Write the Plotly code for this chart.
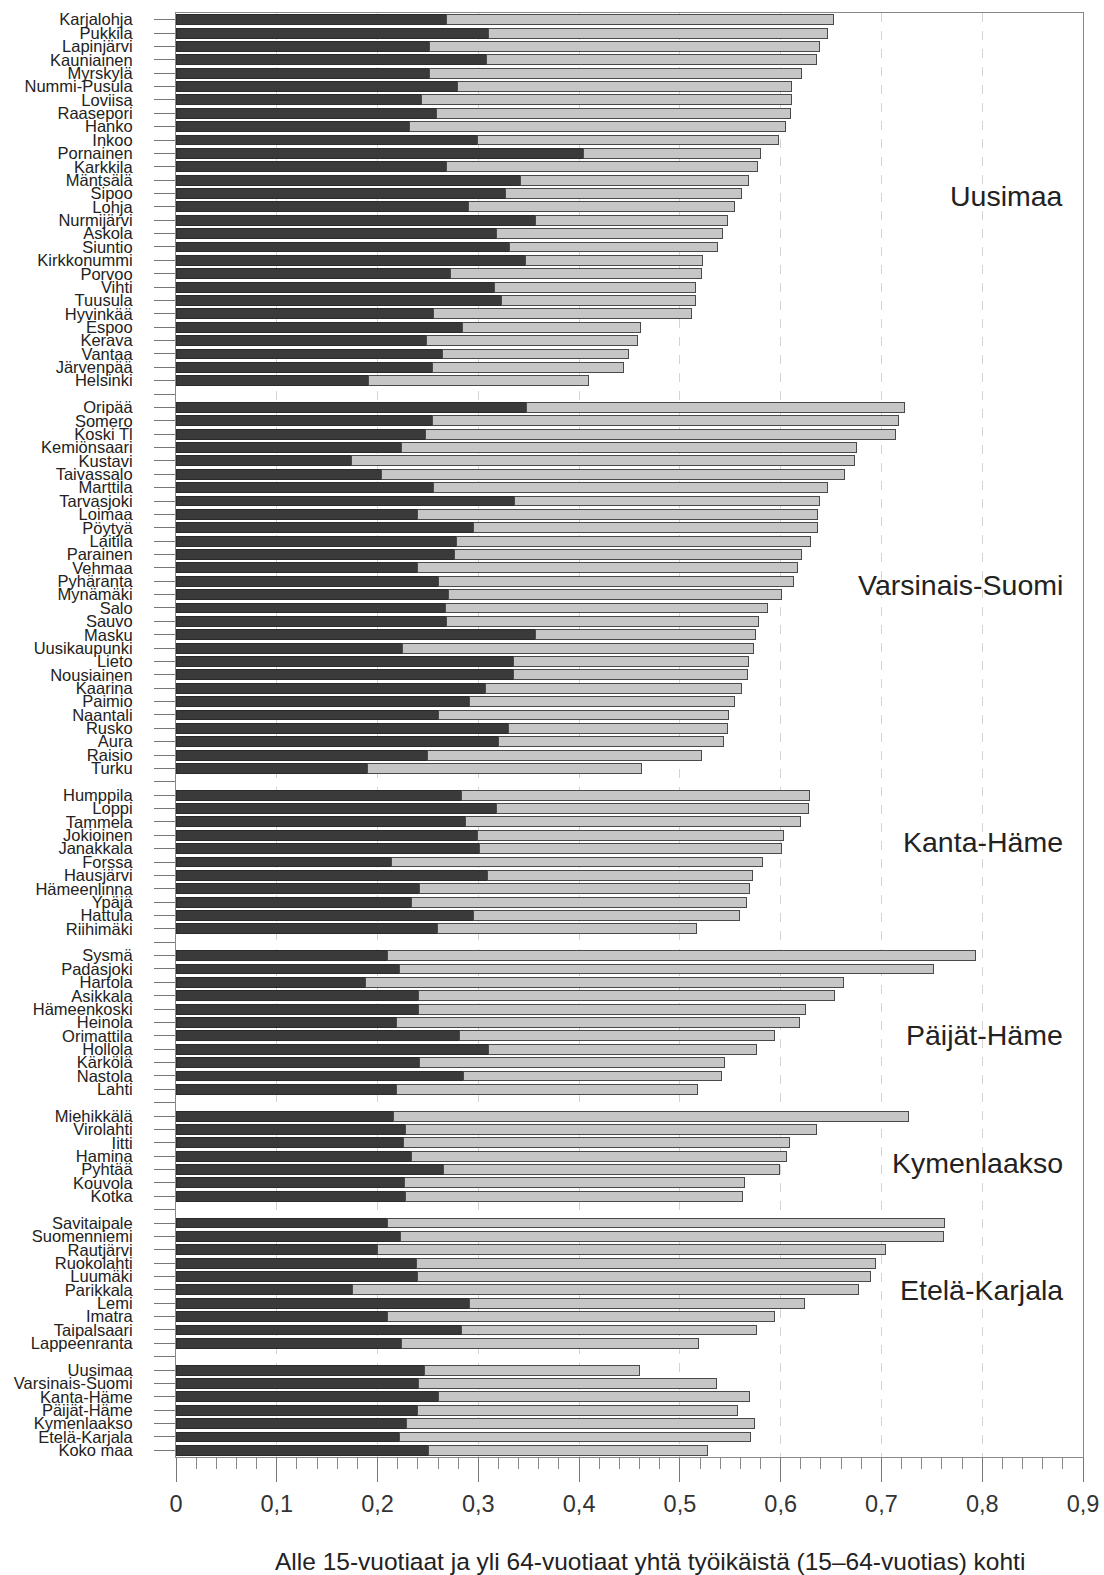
import plotly.graph_objects as go

# ---- data ----
uusimaa_names = ["Karjalohja", "Pukkila", "Lapinjärvi", "Kauniainen", "Myrskylä", "Nummi-Pusula",
                 "Loviisa", "Raasepori", "Hanko", "Inkoo", "Pornainen", "Karkkila", "Mäntsälä",
                 "Sipoo", "Lohja", "Nurmijärvi", "Askola", "Siuntio", "Kirkkonummi", "Porvoo",
                 "Vihti", "Tuusula", "Hyvinkää", "Espoo", "Kerava", "Vantaa", "Järvenpää", "Helsinki"]
uusimaa_u15 = [0.268, 0.310, 0.252, 0.308, 0.252, 0.279, 0.244, 0.258, 0.232, 0.299, 0.404, 0.268,
               0.342, 0.327, 0.290, 0.357, 0.318, 0.331, 0.347, 0.272, 0.316, 0.323, 0.256, 0.284,
               0.249, 0.264, 0.255, 0.191]
uusimaa_o64 = [0.384, 0.336, 0.387, 0.328, 0.369, 0.332, 0.367, 0.352, 0.373, 0.299, 0.176, 0.309,
               0.226, 0.234, 0.264, 0.190, 0.224, 0.206, 0.175, 0.249, 0.199, 0.192, 0.256, 0.177,
               0.209, 0.185, 0.189, 0.218]

vs_names = ["Oripää", "Somero", "Koski Tl", "Kemiönsaari", "Kustavi", "Taivassalo", "Marttila",
            "Tarvasjoki", "Loimaa", "Pöytyä", "Laitila", "Parainen", "Vehmaa", "Pyhäranta",
            "Mynämäki", "Salo", "Sauvo", "Masku", "Uusikaupunki", "Lieto", "Nousiainen", "Kaarina",
            "Paimio", "Naantali", "Rusko", "Aura", "Raisio", "Turku"]
vs_u15 = [0.348, 0.255, 0.248, 0.224, 0.174, 0.204, 0.256, 0.336, 0.240, 0.295, 0.278, 0.276,
          0.240, 0.260, 0.270, 0.267, 0.268, 0.357, 0.225, 0.335, 0.335, 0.307, 0.291, 0.260,
          0.330, 0.320, 0.250, 0.190]
vs_o64 = [0.375, 0.462, 0.466, 0.451, 0.499, 0.459, 0.390, 0.303, 0.397, 0.342, 0.352, 0.345,
          0.377, 0.353, 0.331, 0.320, 0.310, 0.218, 0.348, 0.233, 0.232, 0.254, 0.263, 0.288,
          0.217, 0.223, 0.271, 0.272]

kh_names = ["Humppila", "Loppi", "Tammela", "Jokioinen", "Janakkala", "Forssa", "Hausjärvi",
            "Hämeenlinna", "Ypäjä", "Hattula", "Riihimäki"]
kh_u15 = [0.283, 0.318, 0.287, 0.299, 0.301, 0.214, 0.309, 0.242, 0.234, 0.295, 0.259]
kh_o64 = [0.346, 0.310, 0.333, 0.304, 0.300, 0.368, 0.263, 0.327, 0.332, 0.264, 0.257]

ph_names = ["Sysmä", "Padasjoki", "Hartola", "Asikkala", "Hämeenkoski", "Heinola", "Orimattila",
            "Hollola", "Kärkölä", "Nastola", "Lahti"]
ph_u15 = [0.210, 0.222, 0.188, 0.241, 0.241, 0.219, 0.281, 0.310, 0.242, 0.285, 0.219]
ph_o64 = [0.583, 0.530, 0.474, 0.412, 0.384, 0.400, 0.313, 0.266, 0.302, 0.256, 0.298]

ky_names = ["Miehikkälä", "Virolahti", "Iitti", "Hamina", "Pyhtää", "Kouvola", "Kotka"]
ky_u15 = [0.216, 0.228, 0.226, 0.234, 0.265, 0.227, 0.228]
ky_o64 = [0.511, 0.408, 0.383, 0.372, 0.334, 0.337, 0.334]

ek_names = ["Savitaipale", "Suomenniemi", "Rautjärvi", "Ruokolahti", "Luumäki", "Parikkala",
            "Lemi", "Imatra", "Taipalsaari", "Lappeenranta"]
ek_u15 = [0.210, 0.223, 0.200, 0.239, 0.240, 0.175, 0.291, 0.210, 0.283, 0.224]
ek_o64 = [0.553, 0.539, 0.504, 0.455, 0.449, 0.502, 0.333, 0.384, 0.293, 0.294]

sum_names = ["Uusimaa", "Varsinais-Suomi", "Kanta-Häme", "Päijät-Häme", "Kymenlaakso",
             "Etelä-Karjala", "Koko maa"]
sum_u15 = [0.247, 0.241, 0.260, 0.240, 0.229, 0.222, 0.251]
sum_o64 = [0.213, 0.295, 0.309, 0.317, 0.345, 0.348, 0.276]

region_labels = ["Uusimaa", "Varsinais-Suomi", "Kanta-Häme", "Päijät-Häme", "Kymenlaakso",
                 "Etelä-Karjala"]
region_label_rows = [13.2, 42.3, 61.5, 75.9, 85.5, 95.0]

x_tick_vals = [0, 0.1, 0.2, 0.3, 0.4, 0.5, 0.6, 0.7, 0.8, 0.9]
x_tick_text = ["0", "0,1", "0,2", "0,3", "0,4", "0,5", "0,6", "0,7", "0,8", "0,9"]
x_title = "Alle 15-vuotiaat ja yli 64-vuotiaat yhtä työikäistä (15–64-vuotias) kohti"

# ---- build rows with a blank row between groups ----
groups = [(uusimaa_names, uusimaa_u15, uusimaa_o64), (vs_names, vs_u15, vs_o64),
          (kh_names, kh_u15, kh_o64), (ph_names, ph_u15, ph_o64), (ky_names, ky_u15, ky_o64),
          (ek_names, ek_u15, ek_o64), (sum_names, sum_u15, sum_o64)]

ys, u15, o64, tickvals, ticktext = [], [], [], [], []
row = 0
for gi, (names, a, b) in enumerate(groups):
    if gi > 0:
        tickvals.append(row)
        ticktext.append("")
        row += 1
    for n, va, vb in zip(names, a, b):
        ys.append(row)
        u15.append(va)
        o64.append(vb)
        tickvals.append(row)
        ticktext.append(n)
        row += 1
nrows = row

FONT = "Liberation Sans, Arial, sans-serif"

fig = go.Figure()
fig.add_trace(go.Bar(y=ys, x=u15, orientation="h", width=0.74,
                     marker=dict(color="#3a3a3a", line=dict(color="#2a2a2a", width=1)),
                     name="Alle 15-vuotiaat"))
fig.add_trace(go.Bar(y=ys, x=o64, orientation="h", width=0.74,
                     marker=dict(color="#c6c6c6", line=dict(color="#4a4a4a", width=1)),
                     name="Yli 64-vuotiaat"))

for lab, r in zip(region_labels, region_label_rows):
    fig.add_annotation(x=0.980, xref="paper", y=r, yref="y", text=lab, showarrow=False,
                       xanchor="right", yanchor="middle",
                       font=dict(family=FONT, size=28.5, color="#222222"))

fig.add_annotation(x=0.523, xref="paper", y=0, yref="paper", yshift=-104, text=x_title,
                   showarrow=False, xanchor="center", yanchor="middle",
                   font=dict(family=FONT, size=24.5, color="#222222"))

fig.update_layout(
    width=1104, height=1575,
    margin=dict(l=176, r=21, t=13, b=118),
    barmode="stack", bargap=0.25,
    showlegend=False,
    plot_bgcolor="white", paper_bgcolor="white",
    font=dict(family=FONT, color="#222222"),
)
fig.update_xaxes(
    automargin=False,
    range=[0, 0.9], tickvals=x_tick_vals, ticktext=x_tick_text,
    ticks="outside", ticklen=24, tickcolor="#777777", tickwidth=1,
    ticklabelstandoff=2,
    tickfont=dict(family=FONT, size=23.5, color="#333333"),
    showline=True, linecolor="#888888", linewidth=1, mirror=True,
    showgrid=True, gridcolor="#d4d4d4", griddash="dash", gridwidth=1,
    zeroline=False,
    minor=dict(dtick=0.02, tick0=0, ticks="outside", ticklen=11, tickcolor="#888888",
               showgrid=False),
)
fig.update_yaxes(
    automargin=False,
    range=[nrows - 0.5, -0.5], tickvals=tickvals, ticktext=ticktext,
    ticks="outside", ticklen=21, tickcolor="#777777", tickwidth=1,
    ticklabelstandoff=18,
    tickfont=dict(family=FONT, size=16.5, color="#222222"),
    showline=True, linecolor="#888888", linewidth=1, mirror=True,
    showgrid=False, zeroline=False,
)

# remove the default page margin so the 1104x1575 figure fills the window exactly
fig.write_html("out.html",
               config={"displayModeBar": False},
               post_script="document.body.style.margin='0';document.body.style.overflow='hidden';")
